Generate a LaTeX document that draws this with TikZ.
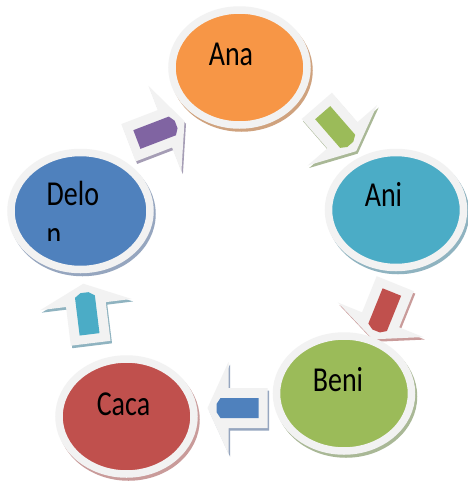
\documentclass[tikz,border=0pt]{standalone}
\usepackage{fontspec}
\usepackage{tikz}
\usetikzlibrary{calc}
\usetikzlibrary{shapes.geometric}
\newfontfamily\namefont[FakeStretch=0.8]{Carlito}

\definecolor{ringgray}{HTML}{F2F2F2}
\definecolor{anaorange}{HTML}{F79646}
\definecolor{aniteal}{HTML}{4BACC6}
\definecolor{benigreen}{HTML}{9BBB59}
\definecolor{cacared}{HTML}{C0504D}
\definecolor{delonblue}{HTML}{4F81BD}
\definecolor{arrpurple}{HTML}{8064A2}
\definecolor{anashade}{HTML}{CFA27E}
\definecolor{anishade}{HTML}{8FB3C0}
\definecolor{benishade}{HTML}{A9B896}
\definecolor{cacashade}{HTML}{C99B9A}
\definecolor{delonshade}{HTML}{96A6BF}
\definecolor{purpleshade}{HTML}{A59DB5}

\tikzset{
  bubble/.style 2 args={ellipse, inner sep=0pt, outer sep=0pt,
    minimum width=135pt, minimum height=115pt,
    line width=7.5pt, draw=ringgray, fill=#1,
    preaction={draw=#2, line width=7.5pt, transform canvas={shift={(2pt,-3pt)}}}},
  nametext/.style={font=\namefont\fontsize{35}{40}\selectfont, inner sep=0pt, anchor=base},
  pics/cyclearrow/.style 2 args={code={
    \fill[#2, transform canvas={shift={(1.5pt,-2.5pt)}}]
      (-30,-20) -- (9,-20) -- (9,-46) -- (30,0) -- (9,46) -- (9,20) -- (-30,20) -- cycle;
    \fill[ringgray]
      (-30,-20) -- (9,-20) -- (9,-46) -- (30,0) -- (9,46) -- (9,20) -- (-30,20) -- cycle;
    \fill[#1] (-21,-10) -- (17,-10) -- (21,-4) -- (21,4) -- (17,10) -- (-21,10) -- cycle;
  }}
}

\begin{document}
\begin{tikzpicture}[x=1pt, y=-1pt]
    \path[fill=white] (0,0) rectangle (467,483);
    \useasboundingbox (0,0) rectangle (467,483);

    % arrows between the names
    \pic[rotate=-49]  (ana-ani)    at (336.5,128.5) {cyclearrow={benigreen}{benishade}};
    \pic[rotate=-112] (ani-beni)   at (384,311.5)   {cyclearrow={cacared}{cacashade}};
    \pic[rotate=180]  (beni-caca)  at (237.5,408)   {cyclearrow={delonblue}{delonshade}};
    \pic[rotate=97]   (caca-delon) at (87,313.5)    {cyclearrow={aniteal}{anishade}};
    \pic[rotate=21]   (delon-ana)  at (156.5,132)   {cyclearrow={arrpurple}{purpleshade}};

    % the five names
    \node[bubble={anaorange}{anashade}]  (ana)   at (239.5,67.5)  {};
    \node[bubble={aniteal}{anishade}]    (ani)   at (396,210)     {};
    \node[bubble={benigreen}{benishade}] (beni)  at (344,393.5)   {};
    \node[bubble={cacared}{cacashade}]   (caca)  at (126.5,416.5) {};
    \node[bubble={delonblue}{delonshade}, minimum width=139pt, minimum height=117pt] (delon) at (80.5,211) {};

    \node[nametext] (ana-txt)  at (231,65)      {Ana};
    \node[nametext] (ani-txt)  at (383.5,206.5) {Ani};
    \node[nametext] (beni-txt) at (338,391.5)   {Beni};
    \node[nametext] (caca-txt) at (123.5,415)   {Caca};
    \node[nametext, anchor=base west] (delon-txt) at (46.5,205) {Delo};
    \begin{scope}
      \clip (0,150) rectangle (170,240);
      \node[nametext, anchor=base west] (delon-txt2) at (46.5,245) {n};
    \end{scope}
\end{tikzpicture}
\end{document}
